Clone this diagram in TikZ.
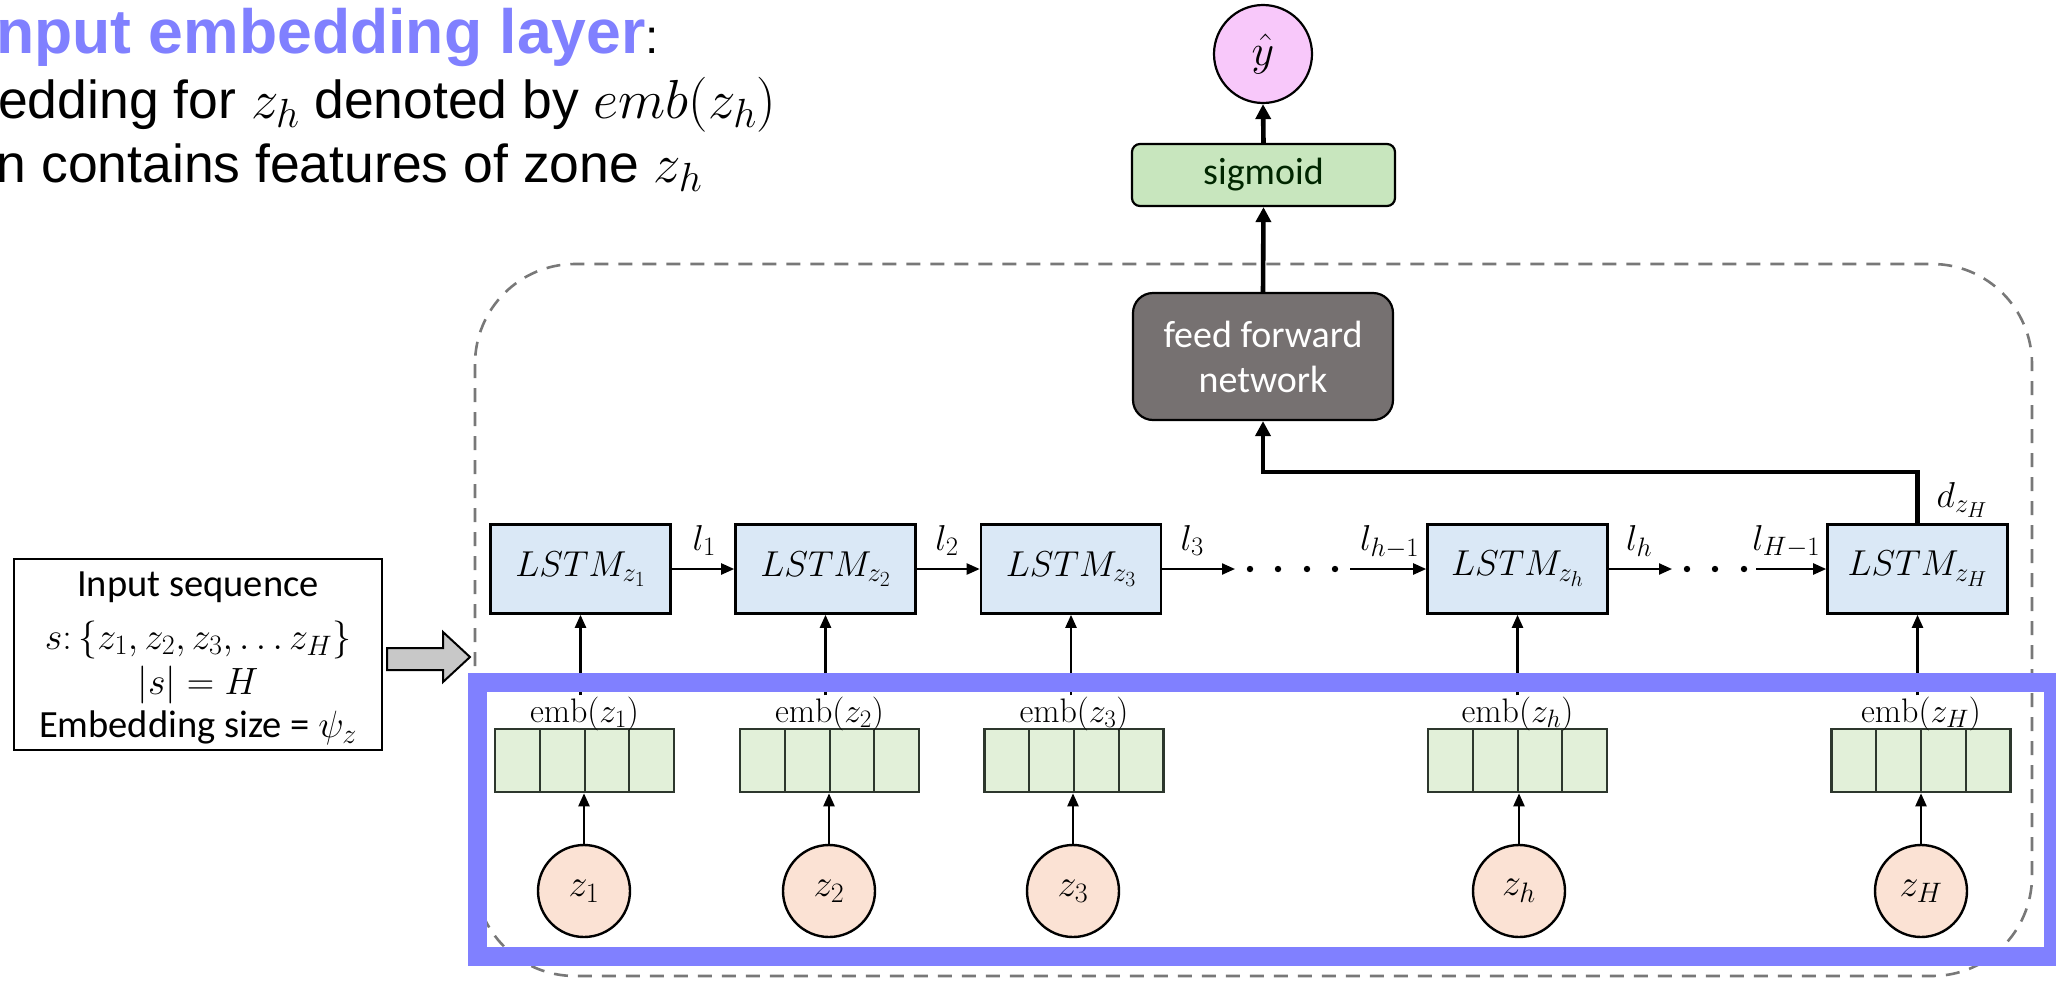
\RequirePackage{fix-cm}
\documentclass[tikz,border=0pt]{standalone}
\usepackage{fontspec}
\newfontfamily\arialfont{Liberation Sans}
\newfontfamily\calfont{Carlito}
\usetikzlibrary{arrows.meta,calc}

% somewhat larger sub- and sub-subscripts
\renewcommand{\defaultscriptratio}{.74}
\renewcommand{\defaultscriptscriptratio}{.6}

\definecolor{hlblue}{RGB}{128,128,255}
\definecolor{lstmfill}{RGB}{218,232,246}
\definecolor{embfill}{RGB}{226,240,217}
\definecolor{embline}{RGB}{45,55,45}
\definecolor{zfill}{RGB}{251,226,212}
\definecolor{yfill}{RGB}{248,200,250}
\definecolor{sigfill}{RGB}{200,230,190}
\definecolor{fffill}{RGB}{118,113,113}
\definecolor{dashgray}{RGB}{120,120,120}
\definecolor{arrowgray}{RGB}{200,200,200}

% larger math inside running text
\newcommand{\headmath}[1]{{\fontsize{55}{60}\selectfont$#1$}}
\newcommand{\boxmath}[1]{{\fontsize{38}{44}\selectfont$#1$}}

\tikzset{
  lstmbox/.style={draw=black, line width=2.6pt, fill=lstmfill, minimum width=180pt,
    minimum height=89pt, inner sep=0pt, font=\fontsize{36}{42}\selectfont},
  embvec/.style={draw=embline, line width=2.6pt, fill=embfill, minimum width=179pt,
    minimum height=63pt, inner sep=0pt,
    path picture={\foreach \k in {1,2,3}{\draw[embline, line width=2pt]
      ($(path picture bounding box.south west)!\k/4!(path picture bounding box.south east)$) --
      ($(path picture bounding box.north west)!\k/4!(path picture bounding box.north east)$);}}},
  emblab/.style={anchor=base, inner sep=1pt, font=\fontsize{34}{40}\selectfont},
  zcirc/.style={circle, draw=black, line width=2.4pt, fill=zfill, minimum size=92pt,
    inner sep=0pt, font=\fontsize{38}{44}\selectfont},
  thinarr/.style={-{Triangle[length=13pt,width=11pt]}, line width=2.3pt},
  thickarr/.style={-{Triangle[length=15pt,width=15pt]}, line width=4.6pt, line join=miter},
  llab/.style={anchor=base, yshift=19pt, inner sep=0pt, font=\fontsize{36}{42}\selectfont},
  dotmark/.style={fill=black},
  headline/.style={anchor=base west, inner sep=0pt, font=\arialfont\fontsize{53.5}{60}\selectfont},
  mathline/.style={anchor=base, inner sep=0pt, text height=20pt, text depth=5pt}
}

\begin{document}
\begin{tikzpicture}[x=1pt,y=-1pt]
\useasboundingbox (0,0) rectangle (2056,980);
\clip (0,0) rectangle (2056,980);

% heading text
\node[anchor=base west, inner sep=0pt, font=\arialfont\fontsize{62.5}{70}\selectfont] (ttl) at (-4,53)
  {\textcolor{hlblue}{\bfseries nput embedding layer}{\fontsize{48}{55}\selectfont:}};
\node[headline] (ln2) at (-2,118)
  {edding for \headmath{z_h} denoted by \headmath{emb(z_h)}};
\node[headline] (ln3) at (-3.5,182)
  {n contains features of zone \headmath{z_h}};

% model frame
\draw[dashgray, line width=2.6pt, dash pattern=on 14pt off 10pt, rounded corners=100pt]
  (475,264) rectangle (2032,976);

% input description
\node[draw, line width=2.2pt, minimum width=368pt, minimum height=191pt, inner sep=0pt] (inp) at (198,654.5) {};
\node[font=\calfont\fontsize{38.5}{46}\selectfont, inner sep=0pt] (in1) at (198,587) {Input sequence};
\node[mathline] (in2) at (198,649) {\boxmath{s\colon\{z_1,z_2,z_3,\ldots z_H\}}};
\node[mathline] (in3) at (198,694) {\boxmath{|s|=H}};
\node[font=\calfont\fontsize{38.5}{46}\selectfont, inner sep=0pt] (in4) at (198,728) {Embedding size = \boxmath{\psi_z}};
\draw[line width=2pt, fill=arrowgray, line join=miter]
  (387,648) -- (443,648) -- (443,632) -- (470,657) -- (443,682) -- (443,670) -- (387,670) -- cycle;

% LSTM chain
\node[lstmbox] (L1) at (580.5,569) {$LSTM_{z_1}$};
\node[lstmbox] (L2) at (825.5,569) {$LSTM_{z_2}$};
\node[lstmbox] (L3) at (1071,569) {$LSTM_{z_3}$};
\node[lstmbox] (Lh) at (1517.5,569) {$LSTM_{z_h}$};
\node[lstmbox] (LH) at (1917.5,569) {$LSTM_{z_H}$};

% embeddings
\node[embvec] (E1) at (584.5,760.5) {};
\node[embvec] (E2) at (829.5,760.5) {};
\node[embvec] (E3) at (1074,760.5) {};
\node[embvec] (Eh) at (1517.5,760.5) {};
\node[embvec] (EH) at (1921,760.5) {};
\node[emblab] (B1) at (584.5,722) {$\mathrm{emb}(z_1)$};
\node[emblab] (B2) at (829.5,722) {$\mathrm{emb}(z_2)$};
\node[emblab] (B3) at (1074,722) {$\mathrm{emb}(z_3)$};
\node[emblab] (Bh) at (1517.5,722) {$\mathrm{emb}(z_h)$};
\node[emblab] (BH) at (1921,722) {$\mathrm{emb}(z_H)$};

% zones
\node[zcirc] (Z1) at (584,891) {$z_1$};
\node[zcirc] (Z2) at (829,891) {$z_2$};
\node[zcirc] (Z3) at (1073,891) {$z_3$};
\node[zcirc] (Zh) at (1519,891) {$z_h$};
\node[zcirc] (ZH) at (1921,891) {$z_H$};

% output head
\node[circle, draw=black, line width=2.2pt, fill=yfill, minimum size=98pt, inner sep=0pt,
  font=\fontsize{44}{50}\selectfont] (Y) at (1263,54) {$\hat{y}$};
\node[draw=black, line width=2.2pt, rounded corners=8pt, fill=sigfill, minimum width=263pt,
  minimum height=62pt, inner sep=0pt, text=black!85!green,
  font=\calfont\fontsize{38}{44}\selectfont] (S) at (1263.5,175) {sigmoid};
\node[draw=black, line width=2.2pt, rounded corners=20pt, fill=fffill, text=white,
  minimum width=260pt, minimum height=127pt, inner sep=0pt, align=center,
  font=\calfont\fontsize{38}{45}\selectfont] (F) at (1263,356.5) {feed forward\\network};

% recurrent connections
\coordinate (a3) at (1235,569);
\coordinate (bh) at (1350,569);
\coordinate (ah) at (1672,569);
\coordinate (bH) at (1756,569);
\draw[thinarr] (L1.east) -- (L2.west) node[llab, pos=0.52] (t1) {$l_1$};
\draw[thinarr] (L2.east) -- (L3.west) node[llab, pos=0.48] (t2) {$l_2$};
\draw[thinarr] (L3.east) -- (a3) node[llab, pos=0.41] (t3) {$l_3$};
\draw[thinarr] (bh) -- (Lh.west) node[llab, pos=0.52] (th1) {$l_{h-1}$};
\draw[thinarr] (Lh.east) -- (ah) node[llab, pos=0.48] (th) {$l_h$};
\draw[thinarr] (bH) -- (LH.west) node[llab, pos=0.43] (tH1) {$l_{H-1}$};
\foreach \px in {1250,1278,1307,1335,1687,1715,1744}
  \fill[dotmark] (\px,569) circle (3.2pt);

% embedding to LSTM inputs
\foreach \n in {1,2,3,h,H}{
  \draw[thinarr] (B\n.north -| L\n.south) -- (L\n.south);
  \draw[thinarr] (Z\n.north) -- (Z\n.north |- E\n.south);
}

% final state to the classifier
\coordinate (turn) at (1263,472);
\draw[thickarr] (LH.north) |- (turn) -- (F.south);
\node[font=\fontsize{36}{42}\selectfont, inner sep=0pt] (dH) at (1962,500) {$d_{z_H}$};
\draw[thickarr] (F.north) -- (S.south);
\draw[thickarr] (S.north) -- (Y.south);

% highlighted embedding layer
\draw[hlblue, line width=19pt] (477,682) rectangle (2053,956.5);
\end{tikzpicture}
\end{document}
